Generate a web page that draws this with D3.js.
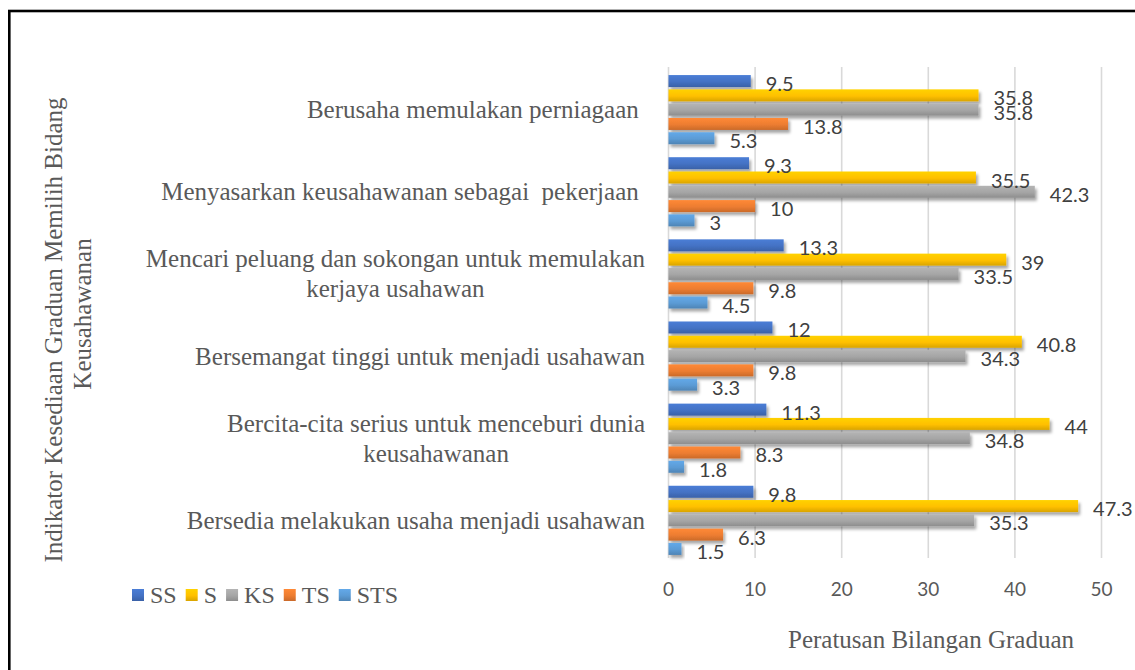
<!DOCTYPE html>
<html>
<head>
<meta charset="utf-8">
<script src="https://cdn.jsdelivr.net/npm/d3@7"></script>
<style>
  body { margin: 0; background: #fff; }
  svg { display: block; }
</style>
</head>
<body>
<svg id="chart" width="1135" height="670"></svg>
<script>
// categories, top to bottom ("\n" splits a label into lines)
const categories = [
  "Berusaha memulakan perniagaan ",
  "Menyasarkan keusahawanan sebagai  pekerjaan ",
  "Mencari peluang dan sokongan untuk memulakan\nkerjaya usahawan",
  "Bersemangat tinggi untuk menjadi usahawan",
  "Bercita-cita serius untuk menceburi dunia\nkeusahawanan",
  "Bersedia melakukan usaha menjadi usahawan"
];
const series = ["SS", "S", "KS", "TS", "STS"];
const ssValues  = [9.5, 9.3, 13.3, 12, 11.3, 9.8];
const sValues   = [35.8, 35.5, 39, 40.8, 44, 47.3];
const ksValues  = [35.8, 42.3, 33.5, 34.3, 34.8, 35.3];
const tsValues  = [13.8, 10, 9.8, 9.8, 8.3, 6.3];
const stsValues = [5.3, 3, 4.5, 3.3, 1.8, 1.5];
const xTicks = [0, 10, 20, 30, 40, 50];
const xTitle = "Peratusan Bilangan Graduan";
const yTitle = ["Indikator Kesediaan Graduan Memilih Bidang", "Keusahawanan"];

const seriesValues = [ssValues, sValues, ksValues, tsValues, stsValues];
const colors = ["#4472C4", "#FFC000", "#A5A5A5", "#ED7D31", "#5B9BD5"];

const serif = "'Liberation Serif', 'Times New Roman', serif";
const sans = "Lato, 'Open Sans', sans-serif";
const textGray = "#595959";

const svg = d3.select("#chart");

// outer frame (runs off the right and bottom edges)
svg.append("rect")
  .attr("x", 9.3).attr("y", 11)
  .attr("width", 1300).attr("height", 800)
  .attr("fill", "none")
  .attr("stroke", "#000")
  .attr("stroke-width", 2.6);

const plotTop = 67, plotBottom = 558;

const x = d3.scaleLinear().domain([0, 50]).range([668.5, 1101.5]);
const y0 = d3.scaleBand().domain(categories).range([69, 561])
  .paddingInner(0.13).paddingOuter(0.06);
const y1 = d3.scaleBand().domain(series).range([0, y0.bandwidth()])
  .paddingInner(0.16).paddingOuter(0.08);

// defs: gradients + shadow
const defs = svg.append("defs");
series.forEach((s, i) => {
  const c = d3.color(colors[i]);
  const g = defs.append("linearGradient")
    .attr("id", "grad-" + s)
    .attr("x1", 0).attr("y1", 0).attr("x2", 0).attr("y2", 1);
  g.append("stop").attr("offset", "0%").attr("stop-color", c.brighter(0.25));
  g.append("stop").attr("offset", "55%").attr("stop-color", c);
  g.append("stop").attr("offset", "100%").attr("stop-color", c.darker(0.45));
});
defs.append("filter")
  .attr("id", "shadow")
  .attr("x", "-10%").attr("y", "-40%").attr("width", "130%").attr("height", "200%")
  .append("feDropShadow")
  .attr("dx", 2).attr("dy", 3)
  .attr("stdDeviation", 1.8)
  .attr("flood-color", "#000")
  .attr("flood-opacity", 0.35);

// gridlines
svg.append("g")
  .selectAll("line")
  .data(xTicks)
  .join("line")
  .attr("x1", d => x(d)).attr("x2", d => x(d))
  .attr("y1", plotTop).attr("y2", plotBottom)
  .attr("stroke", "#D9D9D9")
  .attr("stroke-width", 1.6);

// x tick labels
svg.append("g")
  .selectAll("text")
  .data(xTicks)
  .join("text")
  .attr("x", d => x(d))
  .attr("y", 596)
  .attr("text-anchor", "middle")
  .attr("font-family", sans)
  .attr("font-size", 19)
  .attr("fill", textGray)
  .text(d => d);

// bars
const rows = categories.map((c, ci) => ({
  cat: c,
  bars: series.map((s, si) => ({ s, si, v: seriesValues[si][ci] }))
}));

const groups = svg.append("g")
  .selectAll("g")
  .data(rows)
  .join("g")
  .attr("transform", d => `translate(0,${y0(d.cat)})`);

groups.selectAll("rect")
  .data(d => d.bars)
  .join("rect")
  .attr("x", x(0))
  .attr("y", d => y1(d.s))
  .attr("width", d => x(d.v) - x(0))
  .attr("height", y1.bandwidth())
  .attr("fill", d => `url(#grad-${d.s})`)
  .attr("filter", "url(#shadow)");

groups.selectAll("text")
  .data(d => d.bars)
  .join("text")
  .attr("x", d => x(d.v) + 15)
  .attr("y", d => y1(d.s) + y1.bandwidth() / 2 + 2)
  .attr("dominant-baseline", "central")
  .attr("font-family", sans)
  .attr("font-size", 20)
  .attr("fill", "#404040")
  .text(d => d.v);

// category labels
const labelRight = 645;
const lineGap = 30;
categories.forEach(c => {
  const lines = c.split("\n");
  const cy = y0(c) + y0.bandwidth() / 2;
  const t = svg.append("text")
    .attr("font-family", serif)
    .attr("font-size", 25)
    .attr("fill", textGray)
    .attr("text-anchor", "middle")
    .style("white-space", "pre");
  const spans = lines.map((ln, i) => t.append("tspan")
    .attr("y", cy + (i - (lines.length - 1) / 2) * lineGap)
    .attr("dominant-baseline", "central")
    .text(ln));
  const w = d3.max(spans, sp => sp.node().getComputedTextLength());
  spans.forEach(sp => sp.attr("x", labelRight - w / 2));
});

// y axis title
const yTitlePos = [[53, 330], [82, 314]];
yTitle.forEach((ln, i) => {
  svg.append("text")
    .attr("transform", `translate(${yTitlePos[i][0]},${yTitlePos[i][1]}) rotate(-90)`)
    .attr("text-anchor", "middle")
    .attr("dominant-baseline", "central")
    .attr("font-family", serif)
    .attr("font-size", 25)
    .attr("fill", textGray)
    .text(ln);
});

// x axis title
svg.append("text")
  .attr("x", 931)
  .attr("y", 648)
  .attr("text-anchor", "middle")
  .attr("font-family", serif)
  .attr("font-size", 25)
  .attr("fill", textGray)
  .text(xTitle);

// legend
const legend = svg.append("g");
let lx = 132;
series.forEach((s, i) => {
  legend.append("rect")
    .attr("x", lx).attr("y", 589)
    .attr("width", 12).attr("height", 12)
    .attr("fill", `url(#grad-${s})`);
  const t = legend.append("text")
    .attr("x", lx + 18)
    .attr("y", 603)
    .attr("font-family", serif)
    .attr("font-size", 24)
    .attr("fill", textGray)
    .text(s);
  lx += 18 + t.node().getComputedTextLength() + 9;
});
</script>
</body>
</html>
